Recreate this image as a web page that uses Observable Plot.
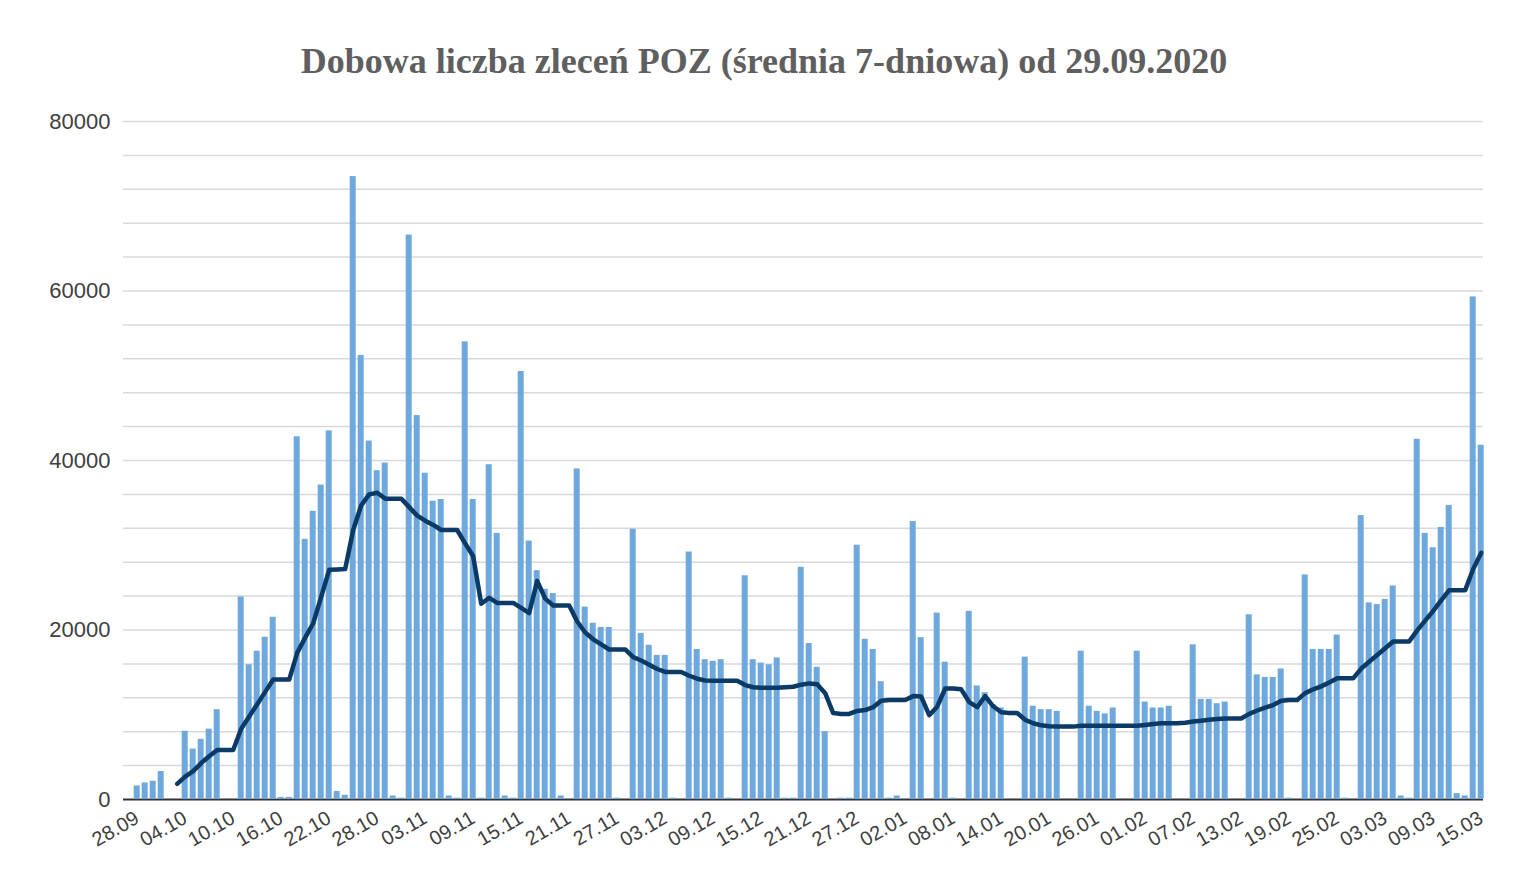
<!DOCTYPE html>
<html><head><meta charset="utf-8">
<script src="https://cdn.jsdelivr.net/npm/d3@7"></script>
<script src="https://cdn.jsdelivr.net/npm/@observablehq/plot@0.6"></script>
<style>
body{margin:0;background:#fff;width:1528px;height:888px;overflow:hidden;}
#title{height:100px;box-sizing:border-box;padding-top:43px;text-align:center;font:bold 36px/36px "Liberation Serif","Times New Roman",serif;color:#5f5f5f;white-space:nowrap;}
#chart svg{display:block;}
</style></head><body>
<div id="title">Dobowa liczba zleceń POZ (średnia 7-dniowa) od 29.09.2020</div>
<div id="chart"></div>
<script>
// categories: one per day, 28.09.2020 – 15.03.2021
const dates = d3.utcDay.range(new Date(Date.UTC(2020, 8, 28)), new Date(Date.UTC(2021, 2, 16))).map(d3.utcFormat("%d.%m"));

// daily number of orders (bars)
const dailyOrders = [
  1600, 1950, 2150, 3300, 0, 0, 8050, 5950, 7100, 8300,
  10600, 0, 0, 23900, 15900, 17500, 19150, 21500, 250, 250,
  42800, 30700, 34000, 37100, 43500, 950, 500, 73500, 52400, 42300,
  38800, 39700, 420, 160, 66600, 45300, 38500, 35200, 35400, 420,
  160, 54000, 35400, 160, 39500, 31400, 420, 160, 50500, 30500,
  27000, 24800, 24300, 420, 0, 39000, 22700, 20800, 20300, 20300,
  160, 0, 31900, 19600, 18200, 17000, 17000, 160, 0, 29200,
  17700, 16500, 16300, 16500, 160, 0, 26400, 16500, 16100, 15900,
  16700, 160, 160, 27400, 18400, 15600, 8000, 0, 160, 160,
  30000, 18900, 17700, 13900, 160, 420, 0, 32800, 19100, 0,
  22000, 16200, 160, 0, 22200, 13400, 12600, 11200, 10800, 0,
  0, 16800, 11000, 10600, 10600, 10400, 0, 0, 17500, 11000,
  10400, 10100, 10800, 0, 0, 17500, 11500, 10800, 10800, 11000,
  0, 0, 18250, 11800, 11800, 11300, 11500, 0, 0, 21800,
  14700, 14400, 14400, 15400, 160, 0, 26500, 17700, 17700, 17700,
  19400, 160, 0, 33500, 23200, 23000, 23600, 25200, 420, 160,
  42500, 31400, 29700, 32100, 34700, 690, 420, 59300, 41800
];

// 7-day average (line)
const avg7 = [
  null, null, null, null, null, 1850, 2700, 3350, 4300, 5100,
  5850, 5850, 5850, 8350, 9800, 11250, 12700, 14150, 14150, 14150,
  17300, 19100, 20800, 23900, 27100, 27150, 27200, 31800, 34700, 36000,
  36200, 35500, 35500, 35500, 34500, 33500, 32900, 32400, 31800, 31800,
  31800, 30200, 28700, 23100, 23800, 23200, 23200, 23200, 22600, 22000,
  25800, 23700, 22900, 22900, 22900, 21000, 19700, 18900, 18300, 17700,
  17700, 17700, 16800, 16400, 15900, 15400, 15050, 15050, 15050, 14600,
  14250, 14050, 14000, 14000, 14000, 14000, 13500, 13250, 13200, 13200,
  13200, 13250, 13300, 13550, 13700, 13600, 12550, 10200, 10100, 10100,
  10450, 10550, 10900, 11650, 11750, 11750, 11750, 12200, 12150, 9950,
  10950, 13100, 13100, 13000, 11500, 10900, 12200, 11000, 10300, 10200,
  10200, 9400, 9000, 8750, 8650, 8600, 8600, 8600, 8700, 8700,
  8700, 8700, 8700, 8700, 8700, 8700, 8800, 8900, 9000, 9000,
  9000, 9050, 9200, 9300, 9400, 9500, 9550, 9550, 9550, 10100,
  10500, 10850, 11150, 11650, 11750, 11750, 12550, 13000, 13350, 13800,
  14300, 14300, 14300, 15450, 16250, 17050, 17850, 18650, 18650, 18650,
  19950, 21100, 22250, 23500, 24700, 24700, 24700, 27200, 29100
];

const xTickLabels = ["28.09","04.10","10.10","16.10","22.10","28.10","03.11","09.11","15.11","21.11",
  "27.11","03.12","09.12","15.12","21.12","27.12","02.01","08.01","14.01","20.01",
  "26.01","01.02","07.02","13.02","19.02","25.02","03.03","09.03","15.03"];
const yTickLabels = [0, 20000, 40000, 60000, 80000];
const gridValues = [4000, 8000, 12000, 16000, 20000, 24000, 28000, 32000, 36000, 40000,
  44000, 48000, 52000, 56000, 60000, 64000, 68000, 72000, 76000, 80000];

const data = dates.map((d, i) => ({date: d, value: dailyOrders[i], avg: avg7[i]}));

const chart = Plot.plot({
  width: 1528,
  height: 788,
  marginTop: 21,
  marginBottom: 89,
  marginLeft: 123,
  marginRight: 45,
  style: {fontFamily: "'Liberation Sans', Arial, sans-serif", color: "#404040", background: "#fff"},
  x: {type: "band", domain: dates, range: [133.7, 1483.7], paddingInner: 0.25, paddingOuter: 0, align: 0, round: false, axis: null},
  y: {domain: [0, 80000], axis: null},
  marks: [
    Plot.ruleY(gridValues, {stroke: "#d9d9d9", strokeWidth: 1.5}),
    Plot.ruleY([0], {stroke: "#333333", strokeWidth: 2}),
    Plot.barY(data, {x: "date", y: "value", fill: "#6fa8dc"}),
    Plot.lineY(data, {x: "date", y: "avg", stroke: "#0b3a66", strokeWidth: 4.5, strokeLinejoin: "round"}),
    Plot.axisY(yTickLabels, {tickSize: 0, tickPadding: 13, fontSize: 22, tickFormat: d => String(d), fill: "#404040", label: null}),
    Plot.axisX(xTickLabels, {tickSize: 0, tickRotate: -30, tickPadding: 17, fontSize: 20, fill: "#404040", label: null})
  ]
});
document.getElementById("chart").appendChild(chart);
</script>
</body></html>
